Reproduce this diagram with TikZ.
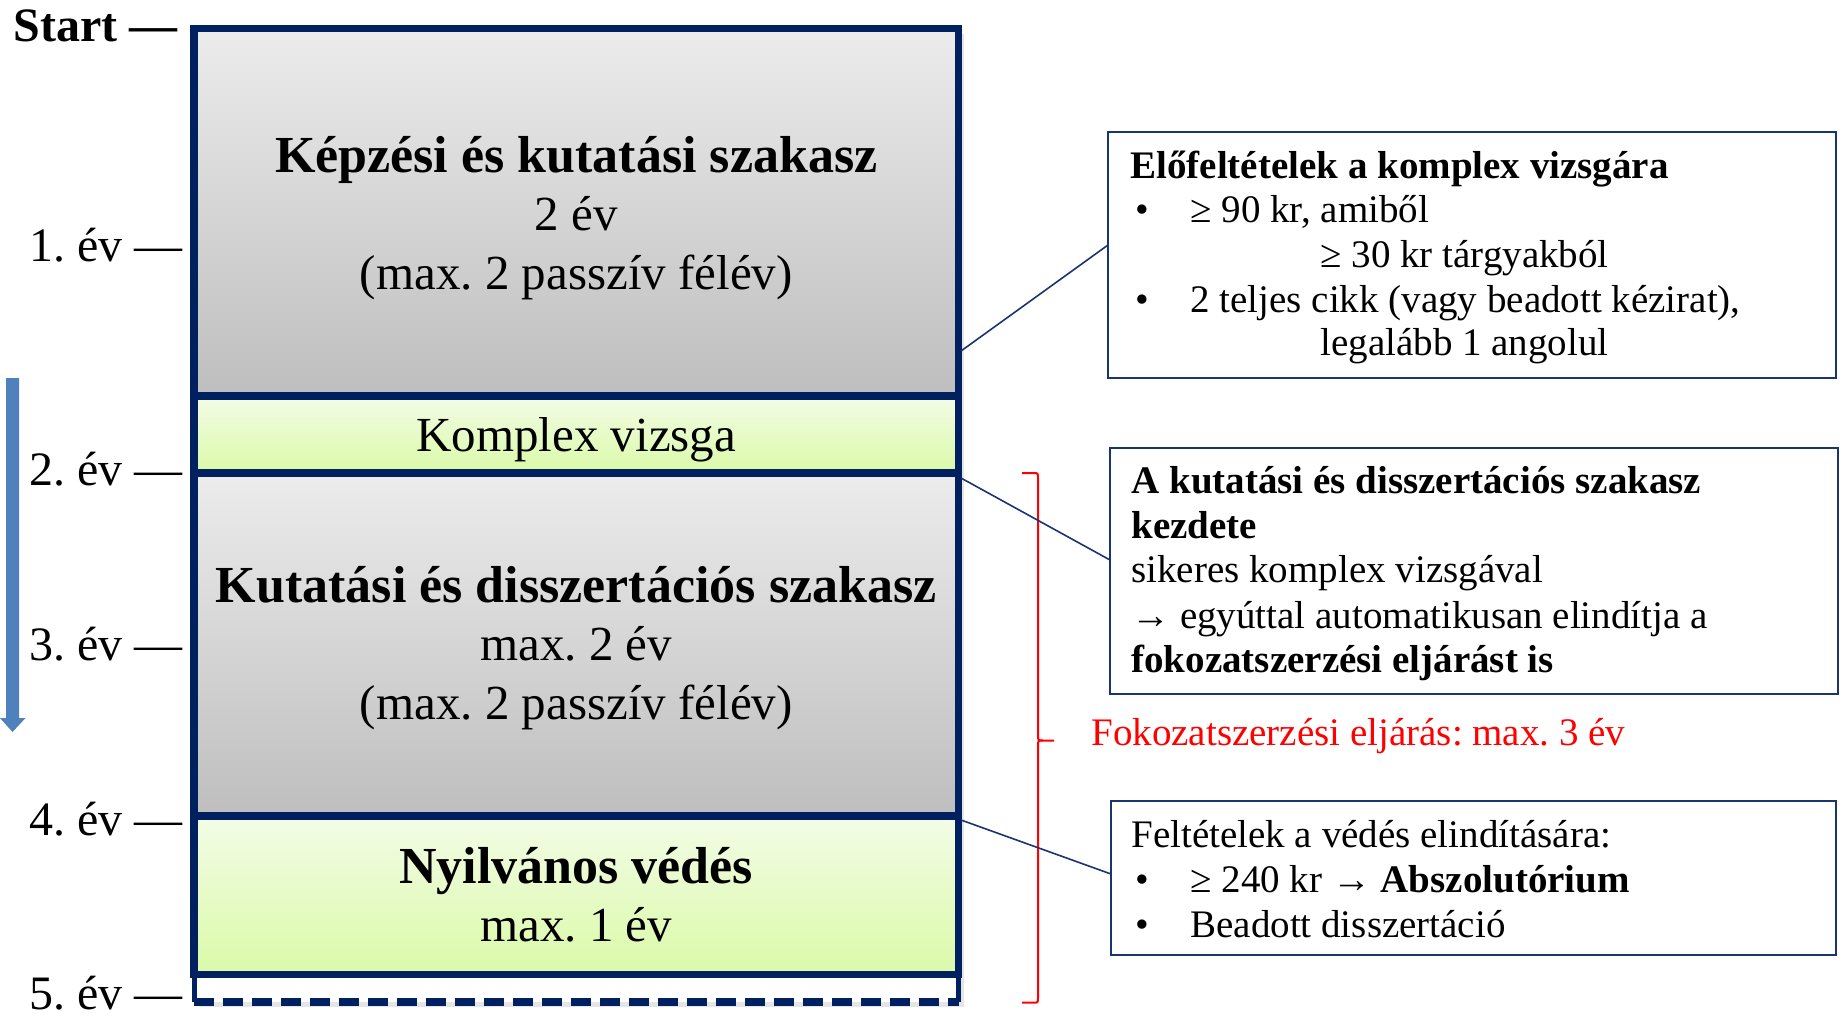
\documentclass[tikz,border=0pt]{standalone}
\usepackage{fontspec}
\setmainfont{Liberation Serif}
\frenchspacing
\definecolor{navy}{HTML}{002060}
\definecolor{boxnavy}{HTML}{1A3470}
\definecolor{grayTop}{RGB}{236,236,236}
\definecolor{grayBot}{RGB}{190,190,190}
\definecolor{greenTop}{RGB}{243,252,230}
\definecolor{greenBot}{RGB}{218,250,168}
\definecolor{arrowblue}{HTML}{4F81BD}
\definecolor{bracered}{HTML}{FF0000}
\begin{document}
\frenchspacing
\begin{tikzpicture}[x=0.5pt,y=-0.5pt,
  section/.style={draw=navy, line width=3.75pt, minimum width=382.25pt, inner sep=0pt, outer sep=0pt, anchor=center},
  greyfill/.style={top color=grayTop, bottom color=grayBot},
  greenfill/.style={top color=greenTop, bottom color=greenBot},
  mbold/.style={font=\fontsize{26}{30}\selectfont\bfseries, anchor=base, inner sep=0pt},
  mreg/.style={font=\fontsize{24.5}{29}\selectfont, anchor=base, inner sep=0pt},
  ylab/.style={font=\fontsize{24}{28}\selectfont, anchor=base east, inner sep=0pt},
  ylabbold/.style={font=\fontsize{24}{28}\selectfont\bfseries, anchor=base east, inner sep=0pt},
  btxt/.style={font=\fontsize{19.5}{22}\selectfont, anchor=base west, inner sep=0pt},
  bbtxt/.style={font=\fontsize{19.5}{22}\selectfont\bfseries, anchor=base west, inner sep=0pt},
  infobox/.style={draw=boxnavy, line width=0.75pt, anchor=north west, inner sep=0pt, outer sep=0pt, fill=white},
  conn/.style={draw=boxnavy, line width=0.8pt}
]
\useasboundingbox (0,0) rectangle (1845,1017);

% soft shadow of the main column
\fill[black, opacity=0.10] (199,34) rectangle (964,1007);

% dashed 5th-year part
\node[fill=white, minimum width=382.25pt, minimum height=13.75pt, inner sep=0pt, outer sep=0pt] (s5) at (576.25,988.25) {};
\draw[navy, line width=2.5pt] (s5.north west) -- (s5.south west);
\draw[navy, line width=2.5pt] (s5.north east) -- (s5.south east);
\draw[navy, line width=4pt, dash pattern=on 10pt off 4.5pt] (s5.south west) -- (s5.south east);

% main sections
\node[section, greyfill, minimum height=183.65pt] (s1) at (576.25,212.35) {};
\node[section, greenfill, minimum height=38.5pt] (s2) at (576.25,434.5) {};
\node[section, greyfill, minimum height=171.5pt] (s3) at (576.25,644.5) {};
\node[section, greenfill, minimum height=79.25pt] (s4) at (576.25,895.25) {};

% texts in sections
\node[mbold] (t1a) at (576.25,172) {Képzési és kutatási szakasz};
\node[mreg] (t1b) at (576.25,230.5) {2 év};
\node[mreg] (t1c) at (576.25,289) {(max. 2 passzív félév)};
\node[mreg] (t2) at (576.25,451.7) {Komplex vizsga};
\node[mbold] (t3a) at (576.25,602) {Kutatási és disszertációs szakasz};
\node[mreg] (t3b) at (576.25,660.5) {max. 2 év};
\node[mreg] (t3c) at (576.25,719) {(max. 2 passzív félév)};
\node[mbold] (t4a) at (576.25,883) {Nyilvános védés};
\node[mreg] (t4b) at (576.25,941.7) {max. 1 év};

% year labels
\node[ylabbold] (lstart) at (178,41.7) {Start —};
\node[ylab] (l1) at (183,261.7) {1. év —};
\node[ylab] (l2) at (183,485) {2. év —};
\node[ylab] (l3) at (183,660) {3. év —};
\node[ylab] (l4) at (183,835) {4. év —};
\node[ylab] (l5) at (183,1009) {5. év —};

% blue arrow
\fill[arrowblue] (6,378) -- (19,378) -- (19,718) -- (25.5,718) -- (12.5,732) -- (0,718) -- (6,718) -- cycle;

% red brace
\draw[bracered, line width=1pt] (1022,473) -- (1033,473) .. controls (1038,473) .. (1038,478) -- (1038,735)
  .. controls (1038,740.5) .. (1043,740.5) -- (1054,740.5);
\draw[bracered, line width=1pt] (1043,740.5) .. controls (1038,740.5) .. (1038,746) -- (1038,997.5)
  .. controls (1038,1002.7) .. (1033,1002.7) -- (1022,1002.7);
\node[btxt, text=bracered] (red) at (1091,745) {Fokozatszerzési eljárás: max. 3 év};

% info boxes
\node[infobox, minimum width=364pt, minimum height=123pt] (A) at (1108,132) {};
\node[infobox, minimum width=364pt, minimum height=123pt] (B) at (1110,448) {};
\node[infobox, minimum width=362.5pt, minimum height=77pt] (C) at (1111,801) {};

% connectors
\coordinate (k1) at (961,351);
\coordinate (k2) at (961,478);
\coordinate (k3) at (961,820);
\draw[conn] (k1) -- ([yshift=5pt]A.west);
\draw[conn] (k2) -- ([yshift=5.5pt]B.west);
\draw[conn] (k3) -- ([yshift=2pt]C.west);

% box A text
\node[bbtxt] (a1) at (1130,178) {Előfeltételek a komplex vizsgára};
\node[btxt] (a2b) at (1135,222) {•};
\node[btxt] (a2) at (1190,222) {≥ 90 kr, amiből};
\node[btxt] (a3) at (1320,267) {≥ 30 kr tárgyakból};
\node[btxt] (a4b) at (1135,312) {•};
\node[btxt] (a4) at (1190,312) {2 teljes cikk (vagy beadott kézirat),};
\node[btxt] (a5) at (1320,355) {legalább 1 angolul};

% box B text
\node[bbtxt] (b1) at (1131,493) {A kutatási és disszertációs szakasz};
\node[bbtxt] (b2) at (1131,538) {kezdete};
\node[btxt] (b3) at (1131,582) {sikeres komplex vizsgával};
\node[btxt] (b4) at (1131,628) {→ egyúttal automatikusan elindítja a};
\node[bbtxt] (b5) at (1131,672) {fokozatszerzési eljárást is};

% box C text
\node[btxt] (c1) at (1131,847) {Feltételek a védés elindítására:};
\node[btxt] (c2b) at (1135,892) {•};
\node[btxt] (c2) at (1190,892) {≥ 240 kr → \textbf{Abszolutórium}};
\node[btxt] (c3b) at (1135,937) {•};
\node[btxt] (c3) at (1190,937) {Beadott disszertáció};
\end{tikzpicture}
\end{document}
